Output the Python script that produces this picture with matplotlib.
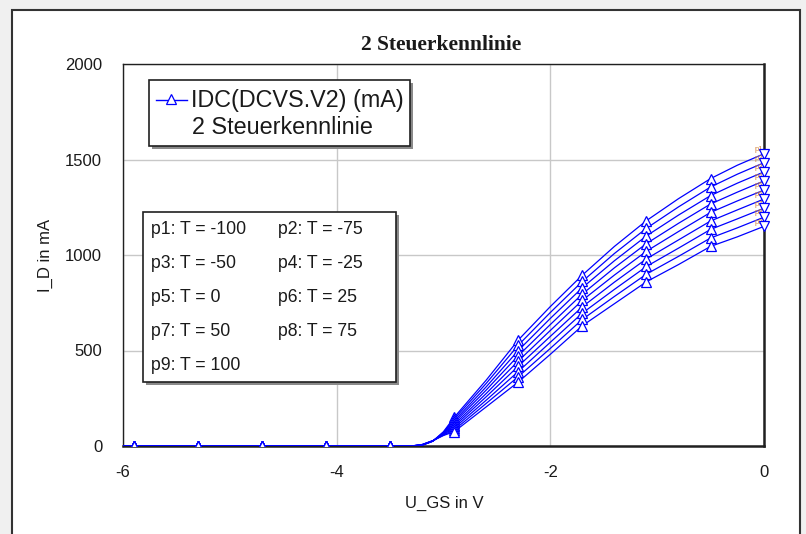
import matplotlib
matplotlib.use("Agg")
import matplotlib.pyplot as plt
from matplotlib.patches import Rectangle

plt.rcParams['font.family'] = ['Liberation Sans', 'DejaVu Sans']

# gate voltage sweep (V)
u_gs = [-6.0, -5.9, -5.3, -4.7, -4.1, -3.5, -3.3, -3.2, -3.1, -3.0, -2.9,
        -2.6, -2.3, -2.0, -1.7, -1.4, -1.1, -0.8, -0.5, -0.25, 0.0]

# drain current (mA), one list per temperature step
p1 = [0, 0, 0, 0, 0, 0, 0, 4, 25, 75, 150, 345, 555, 730, 895, 1045, 1180, 1295, 1400, 1470, 1530]
p2 = [0, 0, 0, 0, 0, 0, 0, 4, 25, 72, 141, 328, 528, 699, 862, 1008, 1140, 1252, 1356, 1423, 1483]
p3 = [0, 0, 0, 0, 0, 0, 0, 5, 26, 70, 131, 310, 500, 668, 829, 970, 1100, 1209, 1311, 1376, 1435]
p4 = [0, 0, 0, 0, 0, 0, 0, 5, 26, 67, 122, 293, 473, 636, 796, 933, 1060, 1166, 1267, 1329, 1388]
p5 = [0, 0, 0, 0, 0, 0, 0, 6, 26, 65, 112, 275, 445, 605, 763, 895, 1020, 1123, 1223, 1283, 1340]
p6 = [0, 0, 0, 0, 0, 0, 0, 6, 27, 62, 103, 258, 418, 574, 729, 858, 980, 1079, 1178, 1236, 1293]
p7 = [0, 0, 0, 0, 0, 0, 0, 7, 27, 60, 94, 240, 390, 543, 696, 820, 940, 1036, 1134, 1189, 1245]
p8 = [0, 0, 0, 0, 0, 0, 0, 7, 28, 57, 84, 223, 363, 511, 663, 783, 900, 993, 1089, 1142, 1198]
p9 = [0, 0, 0, 0, 0, 0, 0, 8, 28, 55, 75, 205, 335, 480, 630, 745, 860, 950, 1045, 1095, 1150]
curves = [p1, p2, p3, p4, p5, p6, p7, p8, p9]
temps = [-100, -75, -50, -25, 0, 25, 50, 75, 100]

xticks = [-6, -4, -2, 0]
yticks = [0, 500, 1000, 1500, 2000]

W, H = 806, 534
blue = '#0000ff'
txt = '#1a1a1a'

fig = plt.figure(figsize=(W / 100, H / 100), dpi=100)
fig.patch.set_facecolor('#f0f0f0')

# background panel (pixel coords)
bg = fig.add_axes([0, 0, 1, 1], zorder=0)
bg.set_xlim(0, W)
bg.set_ylim(H, 0)
bg.axis('off')
bg.add_patch(Rectangle((12, 10), 788, 540, facecolor='white', edgecolor='#333333', lw=1.5))

ax_l, ax_r, ax_t, ax_b = 123, 764, 64, 446
ax = fig.add_axes([ax_l / W, 1 - ax_b / H, (ax_r - ax_l) / W, (ax_b - ax_t) / H], zorder=1)
ax.set_facecolor('white')

mark_idx = [1, 2, 3, 4, 5, 10, 12, 14, 16, 18]
for i, (yv, t) in enumerate(zip(curves, temps)):
    ax.plot(u_gs, yv, '-', color=blue, lw=0.9, zorder=3)
    ax.plot([u_gs[k] for k in mark_idx], [yv[k] for k in mark_idx], '^',
            ms=6.5, mfc='white', mec=blue, mew=0.9, zorder=4, clip_on=True)
    # small orange curve tags at the right end
    ax.text(u_gs[-1] - 0.05, yv[-1] + 22, 'p%d' % (i + 1), color='#d4843c',
            fontsize=5.5, ha='center', va='center', zorder=3, clip_on=False)
    ax.plot(u_gs[-1], yv[-1], 'v', ms=6.5, mfc='white', mec=blue, mew=0.9,
            zorder=5, clip_on=False)

ax.set_xlim(-6, 0)
ax.set_ylim(0, 2000)
ax.set_xticks(xticks)
ax.set_yticks(yticks)
ax.set_xticklabels([str(v) for v in xticks])
ax.set_yticklabels([str(v) for v in yticks])
ax.tick_params(length=0, labelsize=12, colors=txt)
ax.tick_params(axis='x', pad=14)
ax.tick_params(axis='y', pad=15)
ax.grid(True, color='#c8c8c8', lw=1)
ax.set_axisbelow(True)
for s in ['left', 'top']:
    ax.spines[s].set_linewidth(1.0)
    ax.spines[s].set_color('#202020')
for s in ['right', 'bottom']:
    ax.spines[s].set_linewidth(1.8)
    ax.spines[s].set_color('#202020')

ax.set_xlabel('U_GS in V', fontsize=12, color=txt)
ax.set_ylabel('I_D in mA', fontsize=12, color=txt)
ax.xaxis.set_label_coords((444 - ax_l) / (ax_r - ax_l), (ax_b - 503) / (ax_b - ax_t))
ax.yaxis.set_label_coords((45 - ax_l) / (ax_r - ax_l), (ax_b - 255) / (ax_b - ax_t))
ax.xaxis.label.set_va('center')
ax.yaxis.label.set_va('center')
fig.text(441 / W, 1 - 45 / H, '2 Steuerkennlinie', family='Liberation Serif',
         fontweight='bold', fontsize=15.5, ha='center', va='center', color=txt)

# overlay for the legend boxes (pixel coords)
ov = fig.add_axes([0, 0, 1, 1], zorder=5)
ov.set_xlim(0, W)
ov.set_ylim(H, 0)
ov.axis('off')

def box(x0, y0, x1, y1):
    ov.add_patch(Rectangle((x0 + 3, y0 + 3), x1 - x0, y1 - y0, facecolor='#8a8a8a', edgecolor='none'))
    ov.add_patch(Rectangle((x0, y0), x1 - x0, y1 - y0, facecolor='white', edgecolor='#202020', lw=1.2))

box(149, 80, 410, 146)
ov.plot([156, 187], [100, 100], color=blue, lw=1)
ov.plot([171], [99], '^', ms=6.5, mfc='white', mec=blue, mew=0.9)
ov.text(191, 100, 'IDC(DCVS.V2) (mA)', fontsize=16.8, color=txt, va='center', ha='left')
ov.text(192, 127, '2 Steuerkennlinie', fontsize=16.8, color=txt, va='center', ha='left')

box(143, 212, 396, 382)
rows = [230, 264, 298, 332, 365]
cols = [151, 278]
for i, t in enumerate(temps):
    ov.text(cols[i % 2], rows[i // 2], 'p%d: T = %d' % (i + 1, t), fontsize=12.7,
            color=txt, va='center', ha='left')

fig.savefig('out.png', dpi=100, facecolor=fig.get_facecolor())
